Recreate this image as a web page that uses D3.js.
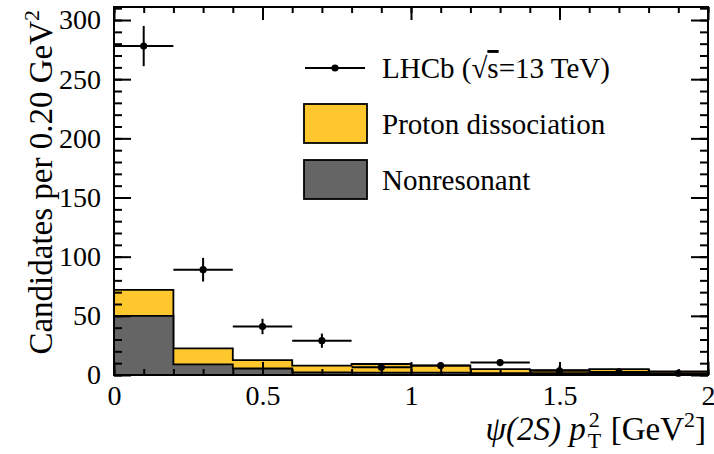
<!DOCTYPE html>
<html><head><meta charset="utf-8">
<script src="https://cdn.jsdelivr.net/npm/d3@7"></script>
<style>
body{margin:0;background:#fff}
text{font-family:"Liberation Serif","Times New Roman",serif;fill:#000}
</style>
</head><body><svg id="c" width="714" height="454"></svg>
<script>
// ---- data ----
const binLow = [0, 0.2, 0.4, 0.6, 0.8, 1.0, 1.2, 1.4, 1.6, 1.8];
const binWidth = 0.2;
const dataCounts = [278, 89, 41, 29, 6.5, 8, 10.5, 3.5, 2.5, 1.5];
const dataErrors = [17, 10, 6.5, 6, 3, 3, 3, 4, 3, 2];
const nonresonant = [50, 9, 5.5, 2.3, 2, 2, 1.5, 1.5, 1.5, 1];
const protonDiss = [22, 13.5, 7, 5.7, 7.3, 6, 3.5, 2.7, 3.5, 2];
const xTicks = [0, 0.5, 1, 1.5, 2];
const xTickLabels = ["0", "0.5", "1", "1.5", "2"];
const yTicks = [0, 50, 100, 150, 200, 250, 300];
const yTickLabels = ["0", "50", "100", "150", "200", "250", "300"];
const legendLabels = ["LHCb (", "Proton dissociation", "Nonresonant"];

// ---- layout ----
const L = 114, R = 708, T = 7, B = 375;
const svg = d3.select("#c");
const x = d3.scaleLinear().domain([0, 2]).range([L, R]);
const y = d3.scaleLinear().domain([0, 311]).range([B, T]);
const YELLOW = "#fec72e", GREY = "#656565";

// ---- stacked histograms ----
const total = protonDiss.map((v, i) => v + nonresonant[i]);
function stepPts(vals) {
  const pts = binLow.map((b, i) => ({ x: b, v: vals[i] }));
  pts.push({ x: binLow[binLow.length - 1] + binWidth, v: vals[vals.length - 1] });
  return pts;
}
const area = d3.area().curve(d3.curveStepAfter)
  .x(d => x(d.x)).y0(y(0)).y1(d => y(d.v));
svg.append("path").attr("d", area(stepPts(total)))
  .attr("fill", YELLOW).attr("stroke", "#000").attr("stroke-width", 1.8);
svg.append("path").attr("d", area(stepPts(nonresonant)))
  .attr("fill", GREY).attr("stroke", "#000").attr("stroke-width", 1.8);

// ---- data points ----
const gD = svg.append("g");
binLow.forEach((b, i) => {
  const c = b + binWidth / 2;
  gD.append("line").attr("x1", x(b)).attr("x2", x(b + binWidth))
    .attr("y1", y(dataCounts[i])).attr("y2", y(dataCounts[i]))
    .attr("stroke", "#000").attr("stroke-width", 2);
  gD.append("line").attr("x1", x(c)).attr("x2", x(c))
    .attr("y1", y(Math.max(0, dataCounts[i] - dataErrors[i]))).attr("y2", y(dataCounts[i] + dataErrors[i]))
    .attr("stroke", "#000").attr("stroke-width", 2);
  gD.append("circle").attr("cx", x(c)).attr("cy", y(dataCounts[i])).attr("r", 3.6).attr("fill", "#000");
});

// ---- axes ----
function styleAxis(g) {
  g.select(".domain").remove();
  g.selectAll("line").attr("stroke", "#000").attr("stroke-width", 2);
}
const xMinor = d3.range(0, 21).map(i => i / 10);
const yMinor = d3.range(0, 32).map(i => i * 10);
const FS = 28;
// bottom
svg.append("g").attr("transform", `translate(0,${B})`)
  .call(d3.axisBottom(x).tickValues(xMinor).tickSize(-6).tickFormat(""))
  .call(styleAxis);
svg.append("g").attr("transform", `translate(0,${B})`)
  .call(d3.axisBottom(x).tickValues(xTicks).tickSize(-13).tickPadding(10)
    .tickFormat((d, i) => xTickLabels[i]))
  .call(styleAxis)
  .call(g => g.selectAll("text").style("font-size", FS + "px").attr("fill", "#000"));
// top
svg.append("g").attr("transform", `translate(0,${T})`)
  .call(d3.axisTop(x).tickValues(xMinor).tickSize(-6).tickFormat("")).call(styleAxis);
svg.append("g").attr("transform", `translate(0,${T})`)
  .call(d3.axisTop(x).tickValues(xTicks).tickSize(-13).tickFormat("")).call(styleAxis);
// left
svg.append("g").attr("transform", `translate(${L},0)`)
  .call(d3.axisLeft(y).tickValues(yMinor).tickSize(-8).tickFormat("")).call(styleAxis);
svg.append("g").attr("transform", `translate(${L},0)`)
  .call(d3.axisLeft(y).tickValues(yTicks).tickSize(-17).tickPadding(13)
    .tickFormat((d, i) => yTickLabels[i]))
  .call(styleAxis)
  .call(g => g.selectAll("text").style("font-size", FS + "px").attr("fill", "#000"));
// right
svg.append("g").attr("transform", `translate(${R},0)`)
  .call(d3.axisRight(y).tickValues(yMinor).tickSize(-8).tickFormat("")).call(styleAxis);
svg.append("g").attr("transform", `translate(${R},0)`)
  .call(d3.axisRight(y).tickValues(yTicks).tickSize(-17).tickFormat("")).call(styleAxis);

// frame
svg.append("rect").attr("x", L).attr("y", T).attr("width", R - L).attr("height", B - T)
  .attr("fill", "none").attr("stroke", "#000").attr("stroke-width", 2);

// ---- y title ----
const yt = svg.append("text").attr("transform", `translate(52,10) rotate(-90)`)
  .attr("text-anchor", "end").style("font-size", "33px");
yt.append("tspan").text("Candidates per 0.20 GeV");
yt.append("tspan").attr("dy", -13).style("font-size", "22px").text("2");

// ---- x title ----
const xt = svg.append("g");
const t1 = xt.append("text").attr("x", 0).attr("y", 0).style("font-size", "33px");
t1.append("tspan").style("font-style", "italic").text("ψ(2S)\u00A0p");
const w1 = t1.node().getBBox().width;
const scr = xt.append("text").style("font-size", "22px");
scr.append("tspan").attr("x", w1 + 3).attr("y", -13).text("2");
scr.append("tspan").attr("x", w1 + 2).attr("y", 8).text("T");
const w2 = scr.node().getBBox().width;
const t2 = xt.append("text").attr("x", w1 + w2 + 11).attr("y", 0).style("font-size", "33px");
t2.append("tspan").text("[GeV");
t2.append("tspan").attr("dy", -13).style("font-size", "22px").text("2");
t2.append("tspan").attr("dy", 13).text("]");
const bb = xt.node().getBBox();
xt.attr("transform", `translate(${R - 2 - (bb.x + bb.width)},440)`);

// ---- legend ----
const LF = "29px";
const lg = svg.append("g");
lg.append("line").attr("x1", 305).attr("x2", 365).attr("y1", 68).attr("y2", 68)
  .attr("stroke", "#000").attr("stroke-width", 2);
lg.append("circle").attr("cx", 335).attr("cy", 68).attr("r", 3.6).attr("fill", "#000");
const lt = lg.append("text").attr("x", 382).attr("y", 78).style("font-size", LF);
lt.append("tspan").text(legendLabels[0]);
lt.append("tspan").text("√");
lt.append("tspan").style("text-decoration", "overline").text("s");
lt.append("tspan").text("=13 TeV)");
lg.append("rect").attr("x", 304).attr("y", 104).attr("width", 63).attr("height", 39)
  .attr("fill", YELLOW).attr("stroke", "#000").attr("stroke-width", 1.8);
lg.append("text").attr("x", 382).attr("y", 134).style("font-size", LF).text(legendLabels[1]);
lg.append("rect").attr("x", 304).attr("y", 160).attr("width", 63).attr("height", 39)
  .attr("fill", GREY).attr("stroke", "#000").attr("stroke-width", 1.8);
lg.append("text").attr("x", 382).attr("y", 190).style("font-size", LF).text(legendLabels[2]);
</script>
</body></html>
